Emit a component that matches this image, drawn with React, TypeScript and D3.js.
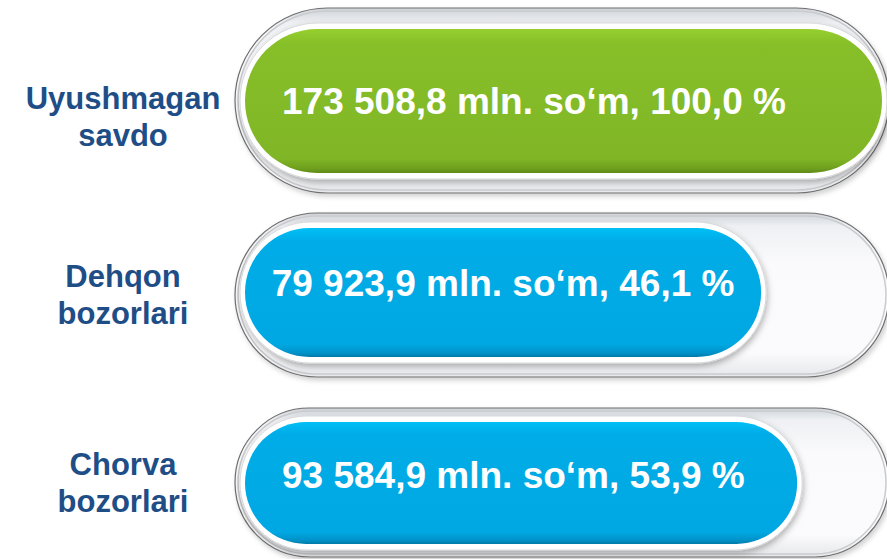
import React from 'react'
import * as d3 from 'd3'

// data
const labels = [['Uyushmagan', 'savdo'], ['Dehqon', 'bozorlari'], ['Chorva', 'bozorlari']]
const amounts = [173508.8, 79923.9, 93584.9]
const shares = [100.0, 46.1, 53.9]
const unit = 'mln. so‘m'
const kinds = ['total', 'part', 'part']

// layout of each row (pixels)
const trackTop = [8, 213, 408]
const trackHeight = [185, 164, 149]
const barTop = [29, 228, 422]
const barHeight = [144, 129, 122]
const textShift = [0, -10, -8]
const labelBaseline = [109, 287, 475]

const W = 887
const H = 559
const trackX0 = 235
const trackX1 = 889
const barX0 = 245

const locale = d3.formatLocale({ decimal: ',', thousands: ' ', grouping: [3], currency: ['', ''] })
const fmtAmount = locale.format(',.1f')
const fmtShare = locale.format('.1f')

const valueFont = 'bold 37px "Liberation Sans", Arial, sans-serif'

function measure(txt: string) {
  const ctx = document.createElement('canvas').getContext('2d')
  if (!ctx) return txt.length * 17
  ctx.font = valueFont
  return ctx.measureText(txt).width
}

export default function App() {
  // bar right edge by share; the infographic does not draw bars strictly proportional
  const x = d3.scaleLinear().domain([0, 50, 100]).range([barX0 + 175, barX0 + 545, barX0 + 637])

  return (
    <svg width={W} height={H} style={{ position: 'absolute', left: 0, top: 0, background: '#fff' }}
      fontFamily='"Liberation Sans", Arial, sans-serif'>
      <defs>
        <linearGradient id="track" x1="0" y1="0" x2="0" y2="1">
          <stop offset="0" stopColor="#cfd3d8" />
          <stop offset="0.08" stopColor="#eef0f3" />
          <stop offset="0.3" stopColor="#fafafc" />
          <stop offset="0.85" stopColor="#fbfbfd" />
          <stop offset="1" stopColor="#e6e7ea" />
        </linearGradient>
        <linearGradient id="green" x1="0" y1="0" x2="0" y2="1">
          <stop offset="0" stopColor="#96cf2e" />
          <stop offset="0.1" stopColor="#87bf29" />
          <stop offset="0.9" stopColor="#80b626" />
          <stop offset="0.97" stopColor="#6e9e1d" />
          <stop offset="1" stopColor="#5f8a17" />
        </linearGradient>
        <linearGradient id="blue" x1="0" y1="0" x2="0" y2="1">
          <stop offset="0" stopColor="#00bff5" />
          <stop offset="0.1" stopColor="#00ace7" />
          <stop offset="0.9" stopColor="#00a8e3" />
          <stop offset="0.97" stopColor="#0092c8" />
          <stop offset="1" stopColor="#0079a8" />
        </linearGradient>
        <filter id="shadow" x="-5%" y="-10%" width="115%" height="130%">
          <feDropShadow dx="1" dy="3" stdDeviation="3" floodColor="#000" floodOpacity="0.3" />
        </filter>
        <filter id="trackShadow" x="-5%" y="-10%" width="115%" height="130%">
          <feDropShadow dx="2" dy="3" stdDeviation="2.5" floodColor="#000" floodOpacity="0.18" />
        </filter>
      </defs>

      {shares.map((s, i) => {
        const ty = trackTop[i]
        const th = trackHeight[i]
        const by = barTop[i]
        const bh = barHeight[i]
        const bx1 = x(s)
        const bw = bx1 - barX0
        const txt = `${fmtAmount(amounts[i])} ${unit}, ${fmtShare(s)} %`
        const tw = measure(txt)
        const tx = barX0 + Math.min(37, (bw - tw) / 2)
        const cy = by + bh / 2
        return (
          <g key={i}>
            <rect x={trackX0} y={ty} width={trackX1 - trackX0} height={th} rx={th / 2}
              fill="url(#track)" stroke="#6f6f6f" strokeWidth={1.2} filter="url(#trackShadow)" />
            <rect x={trackX0 + 3} y={ty + 3} width={trackX1 - trackX0 - 6} height={th - 6} rx={(th - 6) / 2}
              fill="none" stroke="#c9cbce" strokeWidth={1.5} />
            <rect x={barX0 - 5} y={by - 6} width={bw + 10} height={bh + 12} rx={(bh + 12) / 2}
              fill="#ffffff" stroke="#d6d8da" strokeWidth={1} filter="url(#shadow)" />
            <rect x={barX0} y={by} width={bw} height={bh} rx={bh / 2}
              fill={kinds[i] === 'total' ? 'url(#green)' : 'url(#blue)'} />
            <text x={tx} y={cy + 13 + textShift[i]} fill="#fff" fontSize={37} fontWeight="bold">{txt}</text>
            <text x={123} y={labelBaseline[i]} textAnchor="middle" fill="#1f4e87" fontSize={31} fontWeight="bold">
              <tspan x={123} dy={0}>{labels[i][0]}</tspan>
              <tspan x={123} dy={37}>{labels[i][1]}</tspan>
            </text>
          </g>
        )
      })}
    </svg>
  )
}
